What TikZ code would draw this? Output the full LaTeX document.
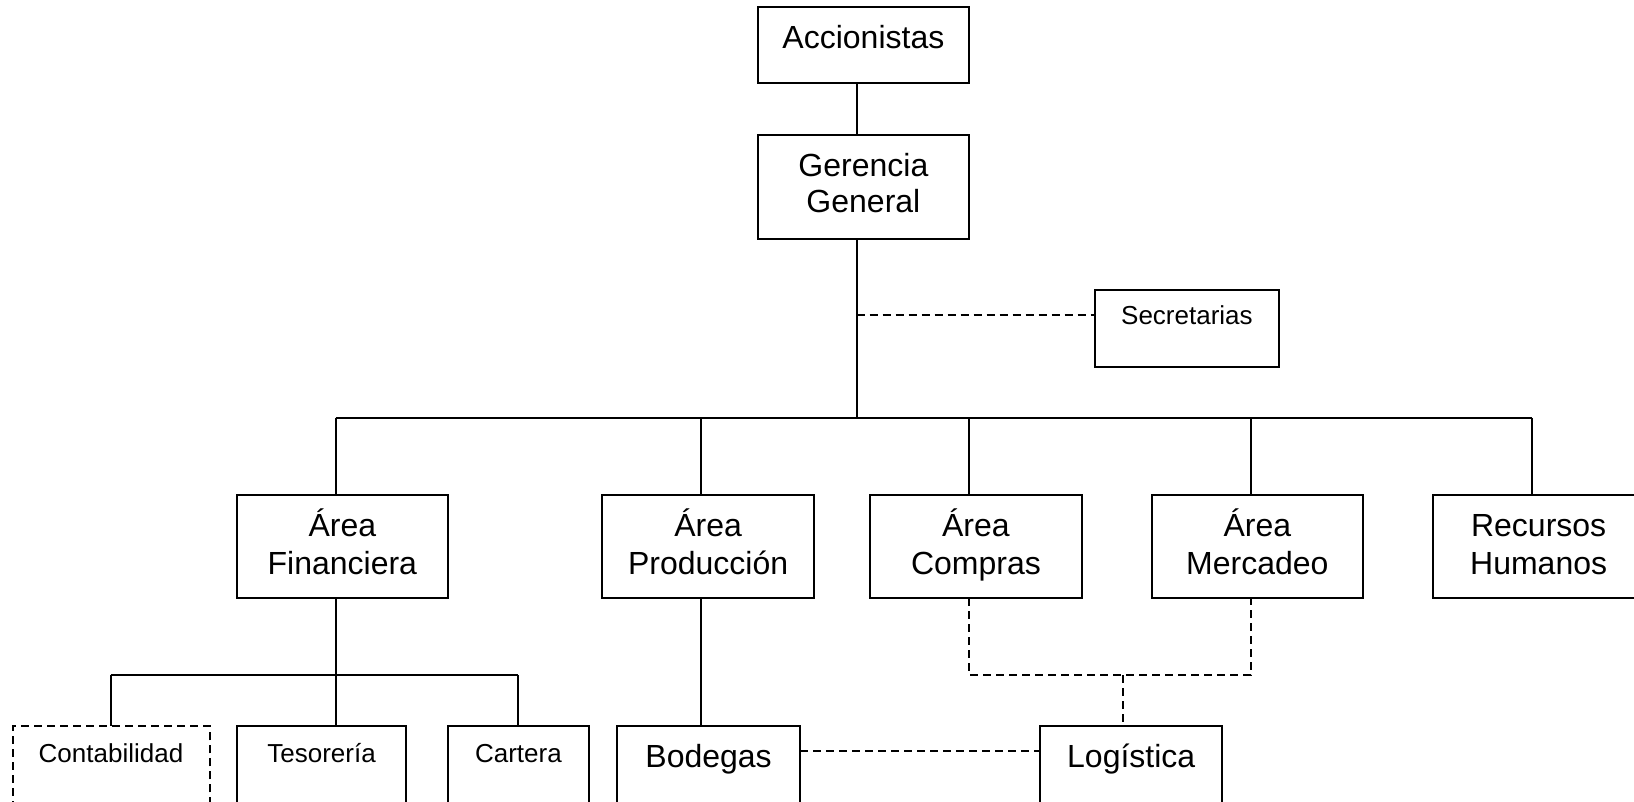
\documentclass[tikz,border=0pt]{standalone}
\usepackage{fontspec}
\setmainfont{Liberation Sans}
\begin{document}
\begin{tikzpicture}[x=1pt,y=-1pt,
  box/.style={draw=black,line width=2pt,fill=none,inner sep=0pt,outer sep=0pt},
  dbox/.style={box,dash pattern=on 8pt off 5pt},
  conn/.style={draw=black,line width=2pt},
  dconn/.style={conn,dash pattern=on 8pt off 5pt},
  big/.style={inner sep=0pt,anchor=base,font=\fontsize{32}{36}\selectfont},
  small/.style={inner sep=0pt,anchor=base,font=\fontsize{26}{30}\selectfont}]
\useasboundingbox (0,0) rectangle (1634,802);
\clip (0,0) rectangle (1634,802);
% boxes
\node[box,minimum width=211.5pt,minimum height=76.1pt] (acc) at (863.4,45.35) {};
\node[box,minimum width=211.5pt,minimum height=103.1pt] (ger) at (863.4,187.05) {};
\node[box,minimum width=183.4pt,minimum height=77.1pt] (sec) at (1186.9,328.25) {};
\node[box,minimum width=211.5pt,minimum height=103.2pt] (fin) at (342.35,546.6) {};
\node[box,minimum width=211.5pt,minimum height=103.2pt] (pro) at (708.1,546.6) {};
\node[box,minimum width=211.5pt,minimum height=103.2pt] (com) at (975.9,546.6) {};
\node[box,minimum width=211.5pt,minimum height=103.2pt] (mer) at (1257.3,546.6) {};
\node[box,minimum width=211.5pt,minimum height=103.2pt] (rh) at (1538.65,546.6) {};
\node[dbox,minimum width=197pt,minimum height=103pt] (con) at (111,777.8) {};
\node[box,minimum width=169.8pt,minimum height=103pt] (tes) at (321.5,777.8) {};
\node[box,minimum width=140.7pt,minimum height=103pt] (car) at (518.45,777.8) {};
\node[box,minimum width=183.4pt,minimum height=103pt] (bod) at (708.6,777.8) {};
\node[box,minimum width=182.4pt,minimum height=103pt] (log) at (1131.2,777.8) {};
% texts
\node[big] (accT) at (863.4,48.5) {Accionistas};
\node[big] (gerT1) at (863.4,176.5) {Gerencia};
\node[big] (gerT2) at (863.4,213) {General};
\node[small] (secT) at (1186.9,325) {Secretarias};
\node[big] (finT1) at (342.35,536.7) {Área};
\node[big] (finT2) at (342.35,574) {Financiera};
\node[big] (proT1) at (708.1,536.7) {Área};
\node[big] (proT2) at (708.1,574) {Producción};
\node[big] (comT1) at (975.9,536.7) {Área};
\node[big] (comT2) at (975.9,574) {Compras};
\node[big] (merT1) at (1257.3,536.7) {Área};
\node[big] (merT2) at (1257.3,574) {Mercadeo};
\node[big] (rhT1) at (1538.65,536.7) {Recursos};
\node[big] (rhT2) at (1538.65,574) {Humanos};
\node[small] (conT) at (111,762) {Contabilidad};
\node[small] (tesT) at (321.5,762) {Tesorería};
\node[small] (carT) at (518.45,762) {Cartera};
\node[big] (bodT) at (708.6,767) {Bodegas};
\node[big] (logT) at (1131.2,767) {Logística};
% junctions
\coordinate (trunk) at (856.6,417.9);
\coordinate (secj) at (856.6,314.7);
\coordinate (busL) at (335.6,417.9);
\coordinate (busP) at (701.3,417.9);
\coordinate (busC) at (969.1,417.9);
\coordinate (busM) at (1250.5,417.9);
\coordinate (busR) at (1531.9,417.9);
\coordinate (finL) at (110.5,675.3);
\coordinate (finM) at (335.6,675.3);
\coordinate (finR) at (517.9,675.3);
\coordinate (cmL) at (969.1,675.3);
\coordinate (cmM) at (1123.4,675.3);
\coordinate (cmR) at (1250.5,675.3);
\coordinate (bl) at (0,751.3);
% solid connectors
\draw[conn] (acc.south -| trunk) -- (ger.north -| trunk);
\draw[conn] (ger.south -| trunk) -- (trunk);
\draw[conn] (busL) -- (busR);
\draw[conn] (busL) -- (fin.north -| busL);
\draw[conn] (busP) -- (pro.north -| busP);
\draw[conn] (busC) -- (com.north -| busC);
\draw[conn] (busM) -- (mer.north -| busM);
\draw[conn] (busR) -- (rh.north -| busR);
\draw[conn] (fin.south -| finM) -- (tes.north -| finM);
\draw[conn] (finL) -- (finR);
\draw[conn] (finL) -- (con.north -| finL);
\draw[conn] (finR) -- (car.north -| finR);
\draw[conn] (pro.south -| busP) -- (bod.north -| busP);
% dashed connectors
\draw[dconn] (secj) -- (sec.west |- secj);
\draw[dconn] (com.south -| cmL) -- (cmL) -- (cmR) -- (mer.south -| cmR);
\draw[dconn] (cmM) -- (log.north -| cmM);
\draw[dconn] (bod.east |- bl) -- (log.west |- bl);
\end{tikzpicture}
\end{document}
